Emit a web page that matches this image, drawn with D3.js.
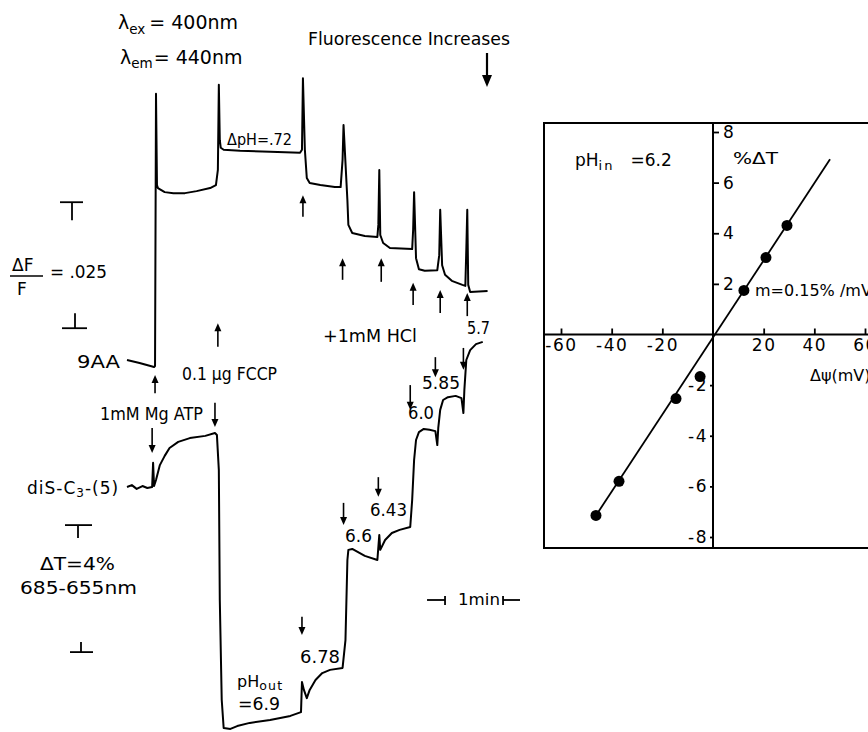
<!DOCTYPE html>
<html><head><meta charset="utf-8">
<script src="https://cdn.jsdelivr.net/npm/d3@7"></script>
<style>
html,body{margin:0;padding:0;background:#fff;}
text{font-family:"DejaVu Sans",sans-serif;fill:#000;}
</style>
</head><body>
<svg id="c" width="868" height="732"></svg>
<script>
// ---------------- DATA ----------------
// 9-aminoacridine fluorescence trace: [time (s), ΔF/F (%)]
const trace9AA = [[0,0.10],[13,0.04],[28,-0.04],[29,-0.02],[30,5.38],[31,3.57],[32,3.51],[39,3.43],[48,3.41],[60,3.41],[72,3.45],[86,3.51],[92,3.57],[94,3.87],[95,5.56],[96,4.46],[97,4.31],[100,4.27],[117,4.25],[148,4.23],[179,4.21],[181,4.27],[182,5.69],[184,4.27],[186,3.71],[189,3.61],[200,3.57],[215,3.53],[221,3.53],[223,4.07],[224,4.76],[228,3.27],[229,2.78],[233,2.62],[246,2.56],[259,2.54],[260,2.78],[261,3.87],[262,2.58],[265,2.42],[272,2.32],[295,2.30],[296,2.68],[297,3.43],[299,2.12],[302,1.90],[308,1.87],[321,1.88],[323,2.18],[324,3.08],[326,1.98],[329,1.79],[336,1.67],[347,1.59],[350,1.57],[351,2.28],[352,3.08],[353,1.59],[355,1.45],[373,1.47]];
// diS-C3-(5) transmission trace: [time (s), ΔT (%)]
const traceDiS = [[0,0],[5,0.06],[10,-0.06],[16,0.03],[21,-0.03],[26,0],[27,0.76],[28,0.03],[30,0.22],[34,0.69],[39,0.98],[44,1.23],[53,1.42],[65,1.54],[81,1.61],[91,1.70],[93,1.64],[95,0.54],[96,-3.56],[98,-6.71],[100,-7.59],[107,-7.62],[114,-7.53],[127,-7.43],[148,-7.34],[169,-7.21],[180,-7.09],[181,-6.14],[183,-6.39],[186,-6.65],[189,-6.39],[195,-6.08],[202,-5.86],[210,-5.76],[223,-5.70],[226,-4.82],[228,-2.30],[229,-1.98],[233,-1.95],[246,-2.17],[259,-2.30],[261,-1.51],[262,-1.98],[267,-1.67],[274,-1.45],[282,-1.35],[293,-1.26],[295,-0.41],[297,0.85],[299,1.48],[302,1.73],[307,1.83],[313,1.80],[319,1.76],[321,1.32],[322,1.86],[324,2.43],[327,2.74],[332,2.83],[340,2.87],[346,2.80],[348,2.33],[349,3.06],[351,4.00],[355,4.31],[361,4.50],[368,4.57]];
// addition arrows: [time, tail value, head value]
const upArrows9AA = [[29,-0.56,-0.20],[94,0.36,0.83],[182,2.94,3.37],[223,1.69,2.12],[263,1.65,2.12],[296,1.19,1.63],[324,1.03,1.49],[352,0.97,1.43]];
const downArrowsDiS = [[26,1.86,1.07],[91,2.65,1.89],[181,-4.09,-4.66],[224,-0.50,-1.20],[260,0.31,-0.31],[293,3.21,2.43],[319,4.09,3.46],[348,4.38,3.69]];
// pH_out labels on the diS trace
const pHoutLabels = ["6.78","6.6","6.43","6.0","5.85","5.7"];
// scale bars
const barDF = [0.73, 3.23];     // ΔF/F = .025 (2.5 %)
const barDT = [-1.2, -5.2];     // ΔT = 4 %
const barMin = [329, 389];      // 1 min
// inset: %ΔT vs Δψ
const dPsi = [-46.2,-37.1,-14.6,-5.1,12.2,20.9,29.2];
const pctDT = [-7.15,-5.8,-2.53,-1.66,1.74,3.04,4.31];
const fitPsi = [-46.2, 46.2];
const fitDT = [-7.15, 6.92];
const xTickVals = [-60,-40,-20,20,40,60];
const yTickPos = [2,4,6,8];
const yTickNeg = [-2,-4,-6,-8];

// ---------------- SCALES ----------------
const svg = d3.select("#c");
const xT = d3.scaleLinear().domain([0,60]).range([127,185]);
const yF = d3.scaleLinear().domain([0,5]).range([365,113]);
const yT = d3.scaleLinear().domain([0,4]).range([487,360]);
const xP = d3.scaleLinear().domain([-60,60]).range([561,865]);
const yP = d3.scaleLinear().domain([-8,8]).range([537,132]);

svg.append("rect").attr("width",868).attr("height",732).attr("fill","#fff");

// ---------------- helpers ----------------
function arrow(x, y1, y2, w=1.6, hw=3.5, hl=8) {
  const dir = y2 > y1 ? 1 : -1;
  svg.append("line").attr("x1",x).attr("x2",x).attr("y1",y1).attr("y2",y2 - dir*hl*0.6)
    .attr("stroke","#000").attr("stroke-width",w);
  svg.append("path").attr("d",`M${x-hw},${y2-dir*hl} L${x+hw},${y2-dir*hl} L${x},${y2} Z`).attr("fill","#000");
}
function label(x, y, parts, size, opt={}) {
  const t = svg.append("text").attr("x",x).attr("y",y).style("font-size",size+"px");
  if (opt.ls) t.style("letter-spacing",opt.ls+"px");
  if (opt.tl) t.attr("textLength",opt.tl).attr("lengthAdjust","spacingAndGlyphs");
  if (opt.anchor) t.attr("text-anchor",opt.anchor);
  let shift = 0;
  parts.forEach(p => {
    if (typeof p === "string") p = {t:p};
    const s = t.append("tspan").text(p.t !== undefined ? p.t : p.sub);
    if (p.sub !== undefined) {
      const d = p.dy !== undefined ? p.dy : size*0.28;
      s.style("font-size",(p.size||size*0.72)+"px").attr("dy", d - shift);
      if (p.ls !== undefined) s.style("letter-spacing",p.ls+"px");
      shift = d;
    } else {
      if (shift) { s.attr("dy",-shift); shift = 0; }
    }
    if (p.dx) s.attr("dx",p.dx);
  });
  return t;
}
function line(x1,y1,x2,y2,w=1.8){
  svg.append("line").attr("x1",x1).attr("y1",y1).attr("x2",x2).attr("y2",y2)
    .attr("stroke","#000").attr("stroke-width",w);
}

// ---------------- TRACES ----------------
const lineF = d3.line().x(d=>xT(d[0])).y(d=>yF(d[1]));
const lineT = d3.line().x(d=>xT(d[0])).y(d=>yT(d[1]));
svg.append("path").attr("d",lineF(trace9AA)).attr("fill","none").attr("stroke","#000")
  .attr("stroke-width",2).attr("stroke-linejoin","round");
svg.append("path").attr("d",lineT(traceDiS)).attr("fill","none").attr("stroke","#000")
  .attr("stroke-width",2).attr("stroke-linejoin","round");

upArrows9AA.forEach(a => arrow(xT(a[0]), yF(a[1]), yF(a[2])));
downArrowsDiS.forEach(a => arrow(xT(a[0]), yT(a[1]), yT(a[2])));

// Fluorescence increases arrow
arrow(487, 53, 87, 2.2, 5, 12);

// ---------------- SCALE BARS ----------------
// ΔF/F
line(60, yF(barDF[1]), 83, yF(barDF[1]));
line(72, yF(barDF[1]), 72, yF(barDF[1])+18);
line(62, yF(barDF[0]), 87, yF(barDF[0]));
line(75, yF(barDF[0]), 75, yF(barDF[0])-15);
// ΔT
line(65, yT(barDT[0]), 92, yT(barDT[0]));
line(78, yT(barDT[0]), 78, yT(barDT[0])+13);
line(70, yT(barDT[1]), 93, yT(barDT[1]));
line(81, yT(barDT[1]), 81, yT(barDT[1])-10);
// 1 min
line(xT(barMin[0])-18, 600, xT(barMin[0]), 600);
line(xT(barMin[0]), 596, xT(barMin[0]), 605);
line(xT(barMin[1]), 600, xT(barMin[1])+17, 600);
line(xT(barMin[1]), 596, xT(barMin[1]), 605);

// ---------------- LABELS ----------------
label(118, 29, ["λ",{sub:"ex",dy:5,size:13.5},{t:"= 400nm",dx:4}], 19);
label(120, 64, ["λ",{sub:"em",dy:4,size:13.5},{t:"= 440nm",dx:1}], 19);
label(308, 45, ["Fluorescence Increases"], 18, {tl:202});
label(227, 145, ["ΔpH=.72"], 15, {tl:65});
label(12, 271, ["ΔF"], 17);
line(10, 276, 43, 276, 1.6);
label(17, 295, ["F"], 17);
label(50, 278, ["= .025"], 17, {tl:57});
label(77, 368, ["9AA"], 18, {tl:43});
label(182, 380, ["0.1 μg FCCP"], 17, {tl:95});
label(323, 342, ["+1mM  HCl"], 17, {tl:94});
label(100, 420, ["1mM Mg ATP"], 17, {tl:103});
label(27, 494, ["diS-C",{sub:"3",dy:3,size:12},"-(5)"], 17, {ls:1});
label(40, 570, ["ΔT=4%"], 18, {tl:75});
label(20, 594, ["685-655nm"], 18, {tl:117});
label(458, 605, ["1min"], 15, {tl:42});
// pH_out labels
const pHpos = [[300,663,40],[345,542,27],[370,516,37],[408,419,26],[422,389,38],[467,334,23]];
pHoutLabels.forEach((s,i)=>label(pHpos[i][0], pHpos[i][1], [s], 17, {tl:pHpos[i][2]}));
label(237, 687, ["pH",{sub:"out",dy:3,size:12.5,ls:1.2}], 16);
label(238, 710, ["=6.9"], 17, {tl:42});

// ---------------- INSET ----------------
svg.append("rect").attr("x",544).attr("y",123).attr("width",340).attr("height",425)
  .attr("fill","none").attr("stroke","#000").attr("stroke-width",2);
line(544, yP(0), 868, yP(0), 2);
line(xP(0), 123, xP(0), 548, 2);

const fmt = d => String(d);
const gx = svg.append("g").attr("transform",`translate(0,${yP(0)})`)
  .call(d3.axisBottom(xP).tickValues(xTickVals).tickSize(-6).tickPadding(4).tickFormat(fmt));
const gyR = svg.append("g").attr("transform",`translate(${xP(0)},0)`)
  .call(d3.axisRight(yP).tickValues(yTickPos).tickSize(6).tickPadding(4).tickFormat(fmt));
const gyL = svg.append("g").attr("transform",`translate(${xP(0)},0)`)
  .call(d3.axisLeft(yP).tickValues(yTickNeg).tickSize(3).tickPadding(2).tickFormat(fmt));
[gx,gyR,gyL].forEach(g=>{
  g.select(".domain").remove();
  g.selectAll(".tick line").attr("stroke","#000").attr("stroke-width",1.8);
  g.selectAll(".tick text").attr("fill","#000").style("font-family","DejaVu Sans, sans-serif")
    .style("font-size","17px").style("letter-spacing","1.5px");
});

const fitLine = d3.line().x(d=>xP(d[0])).y(d=>yP(d[1]));
svg.append("path").attr("d",fitLine(d3.zip(fitPsi,fitDT))).attr("fill","none")
  .attr("stroke","#000").attr("stroke-width",1.8);
svg.selectAll("circle.pt").data(d3.zip(dPsi,pctDT)).enter().append("circle")
  .attr("class","pt").attr("cx",d=>xP(d[0])).attr("cy",d=>yP(d[1])).attr("r",5.5).attr("fill","#000");

label(575, 166, ["pH",{sub:"in",dy:4,size:13,ls:2},{t:"=6.2",dx:16}], 17);
label(733, 164, ["%ΔT"], 16, {tl:45});
label(755, 296, ["m=0.15% /mV"], 16);
label(810, 381, ["Δψ(mV)"], 16);
</script>
</body></html>
